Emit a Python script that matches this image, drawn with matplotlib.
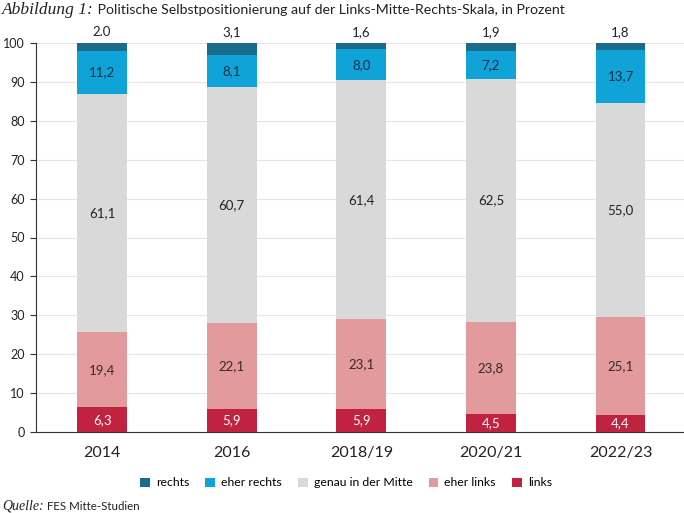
import matplotlib
matplotlib.use("Agg")
import matplotlib.pyplot as plt
import numpy as np
from matplotlib.patches import Patch

categories = ["2014", "2016", "2018/19", "2020/21", "2022/23"]
series_names = ["links", "eher links", "genau in der Mitte", "eher rechts", "rechts"]
links = [6.3, 5.9, 5.9, 4.5, 4.4]
eher_links = [19.4, 22.1, 23.1, 23.8, 25.1]
mitte = [61.1, 60.7, 61.4, 62.5, 55.0]
eher_rechts = [11.2, 8.1, 8.0, 7.2, 13.7]
rechts = [2.0, 3.1, 1.6, 1.9, 1.8]
rechts_labels = ["2.0", "3,1", "1,6", "1,9", "1,8"]
yticks = [0, 10, 20, 30, 40, 50, 60, 70, 80, 90, 100]

colors = ["#c0223f", "#e29a9c", "#d9d9d9", "#0fa3d8", "#1a6c8c"]
label_colors = ["white", "#3a2a2a", "#222222", "#10304a", None]

FONT = ["Lato", "DejaVu Sans"]
plt.rcParams["font.family"] = FONT

fig = plt.figure(figsize=(6.84, 5.13), dpi=100)
ax = fig.add_axes([36/684, 1-432/513, 1-36/684, (432-43)/513])

x = np.arange(len(categories))
data = [links, eher_links, mitte, eher_rechts, rechts]
bottom = np.zeros(len(categories))
for i, vals in enumerate(data):
    vals = np.array(vals)
    ax.bar(x, vals, width=0.385, bottom=bottom, color=colors[i], zorder=3, linewidth=0)
    if i < 4:
        for xi, b, v in zip(x, bottom, vals):
            ax.text(xi, b + v/2, f"{v:.1f}".replace(".", ","), ha="center", va="center",
                    fontsize=9.5, color=label_colors[i], zorder=4)
    else:
        for xi, b, v, lab in zip(x, bottom, vals, rechts_labels):
            ax.text(xi, 101.2, lab, ha="center", va="bottom", fontsize=9.5,
                    color="#222222", zorder=4, clip_on=False)
    bottom += vals

ax.set_xlim(-0.51, 4.49)
ax.set_ylim(0, 100)
ax.set_yticks(yticks)
ax.set_yticklabels([str(t) for t in yticks], fontsize=9, color="#222222")
ax.set_xticks(x)
ax.set_xticklabels(categories, fontsize=11.5, color="#222222")
ax.tick_params(axis="x", length=0, pad=10)
ax.tick_params(axis="y", length=4, width=0.8, color="#333333", pad=4)
ax.grid(axis="y", color="#e6e6e6", linewidth=0.8, zorder=0)
for s in ["top", "right"]:
    ax.spines[s].set_visible(False)
ax.spines["left"].set_color("#333333")
ax.spines["bottom"].set_color("#333333")
ax.spines["left"].set_linewidth(0.8)
ax.spines["bottom"].set_linewidth(0.8)

# Legend (order: rechts ... links)
handles = [Patch(facecolor=colors[i], edgecolor="none") for i in [4, 3, 2, 1, 0]]
labels = [series_names[i] for i in [4, 3, 2, 1, 0]]
fig.legend(handles, labels, loc="center", bbox_to_anchor=(346/684, 1-483/513), ncol=5,
           frameon=False, fontsize=8.8, handlelength=0.8, handleheight=0.8,
           handletextpad=0.5, columnspacing=1.3)

# Title
t1 = fig.text(2/684, 1-10/513, "Abbildung 1:", fontsize=12.5, style="italic",
              family=["Liberation Serif"], va="center", ha="left", color="#222222")
plt.annotate(" Politische Selbstpositionierung auf der Links-Mitte-Rechts-Skala, in Prozent",
             xy=(1, 0.5), xycoords=t1, va="center", ha="left", fontsize=10.2,
             color="#222222", annotation_clip=False)

t2 = fig.text(2/684, 1-506/513, "Quelle:", fontsize=10, style="italic",
              family=["Liberation Serif"], va="center", ha="left", color="#222222")
plt.annotate(" FES Mitte-Studien", xy=(1, 0.5), xycoords=t2, va="center", ha="left",
             fontsize=8.3, color="#222222", annotation_clip=False)

fig.savefig("out.png", dpi=100)
